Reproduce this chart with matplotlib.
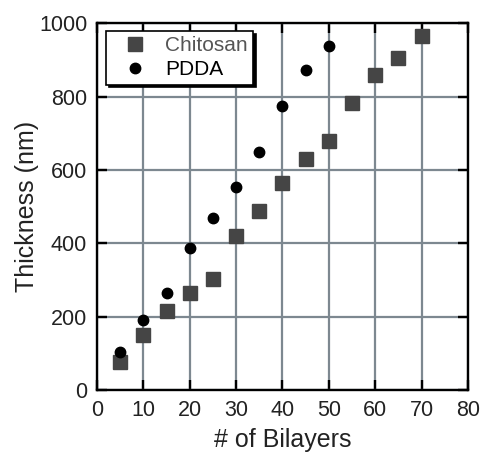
import matplotlib
matplotlib.use("Agg")
import matplotlib.pyplot as plt

plt.rcParams['font.family'] = ['Liberation Sans', 'DejaVu Sans']

chitosan_x = [5, 10, 15, 20, 25, 30, 35, 40, 45, 50, 55, 60, 65, 70]
chitosan_y = [77, 150, 216, 265, 302, 420, 489, 565, 629, 678, 783, 858, 904, 965]
pdda_x = [5, 10, 15, 20, 25, 30, 35, 40, 45, 50]
pdda_y = [103, 191, 263, 388, 470, 554, 649, 774, 872, 938]
x_ticks = [0, 10, 20, 30, 40, 50, 60, 70, 80]
y_ticks = [0, 200, 400, 600, 800, 1000]

fig = plt.figure(figsize=(4.8, 4.55), dpi=100)
ax = fig.add_axes([0.202, 0.143, 0.773, 0.806])

ax.set_xlim(0, 80)
ax.set_ylim(0, 1000)
ax.set_xticks(x_ticks)
ax.set_yticks(y_ticks)
ax.grid(True, color='#7d8890', linewidth=1.6)
ax.set_axisbelow(True)

ax.plot(chitosan_x, chitosan_y, 's', color='#454545', markersize=9.5, label='Chitosan', zorder=3)
ax.plot(pdda_x, pdda_y, 'o', color='black', markersize=7.5, label='PDDA', zorder=3)

for s in ax.spines.values():
    s.set_linewidth(1.7)
    s.set_color('black')
ax.tick_params(direction='in', length=7, width=1.7, top=True, right=True,
               labelsize=15.5, colors='black', labelcolor='#222222', pad=7)

ax.set_xlabel('# of Bilayers', fontsize=18, color='#222222', labelpad=5)
ax.set_ylabel('Thickness (nm)', fontsize=18, color='#222222', labelpad=0)

leg = ax.legend(loc='upper left', bbox_to_anchor=(0.013, 0.99), frameon=True,
                shadow={'color': 'black', 'alpha': 1.0}, fancybox=False,
                fontsize=15, borderpad=0.25, handletextpad=0.3,
                labelspacing=0.25, borderaxespad=0.2, handlelength=2.3)
leg.get_frame().set_edgecolor('black')
leg.get_frame().set_linewidth(1.2)
leg.get_texts()[0].set_color('#555555')

fig.savefig('out.png', dpi=100)
